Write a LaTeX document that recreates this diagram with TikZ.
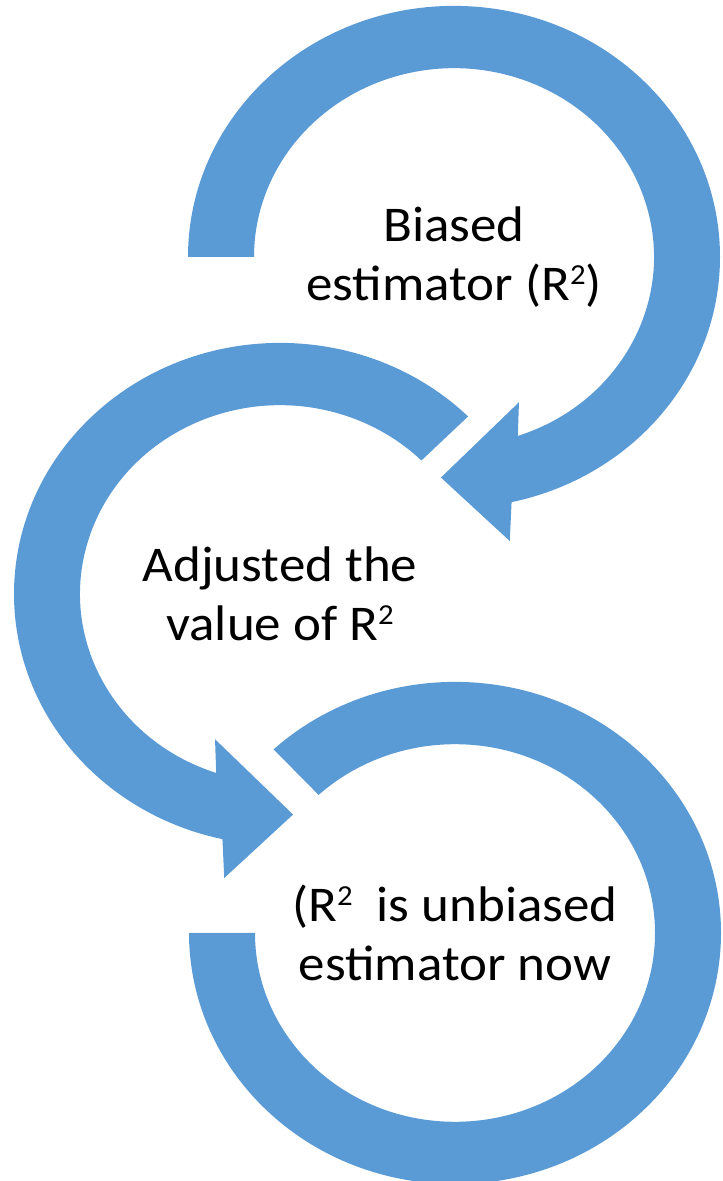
\documentclass[tikz,border=0pt]{standalone}
\usepackage{fontspec}
\setmainfont{Carlito}
\usetikzlibrary{positioning}
\definecolor{arcblue}{RGB}{91,155,213}
\newcommand{\sqtwo}{\raisebox{16pt}{\fontsize{29}{29}\selectfont 2}}

\begin{document}
\begin{tikzpicture}[x=1pt,y=1pt,
	arc text/.style={align=center,font=\fontsize{50}{59}\selectfont,xscale=1.06},
	band/.style={fill=arcblue,yscale=0.944}]
	\useasboundingbox (0,0) rectangle (723,1181);

	\node[arc text] (1) at (454,924) {Biased\\estimator (R\sqtwo)};
	\node[arc text] (2) [on grid, below left=337pt and 174pt of 1] {Adjusted the\\value of R\sqtwo};
	\node[arc text] (3) [on grid, below right=339pt and 175pt of 2] {(R\sqtwo\ \ is unbiased\\estimator now};

	% first arrow, clockwise
	\fill[band,shift={(1.center)}] (180:266) arc[start angle=180, end angle=-77.5, radius=266]
		-- (-79.5:306) -- (-93.2:234) -- (-67.1:167) -- (-71.4:200)
		arc[start angle=-71.4, end angle=180, radius=200] -- cycle;
	% second arrow, counterclockwise
	\fill[band,shift={(2.center)}] (45:266) arc[start angle=45, end angle=257.5, radius=266]
		-- (259.5:306) -- (273.2:234) -- (247.1:167) -- (251.4:200)
		arc[start angle=251.4, end angle=45, radius=200] -- cycle;
	% last one, no head
	\fill[band,shift={(3.center)}] (133:266) arc[start angle=133, end angle=-180, radius=266]
		-- (180:200) arc[start angle=-180, end angle=133, radius=200] -- cycle;
\end{tikzpicture}
\end{document}
